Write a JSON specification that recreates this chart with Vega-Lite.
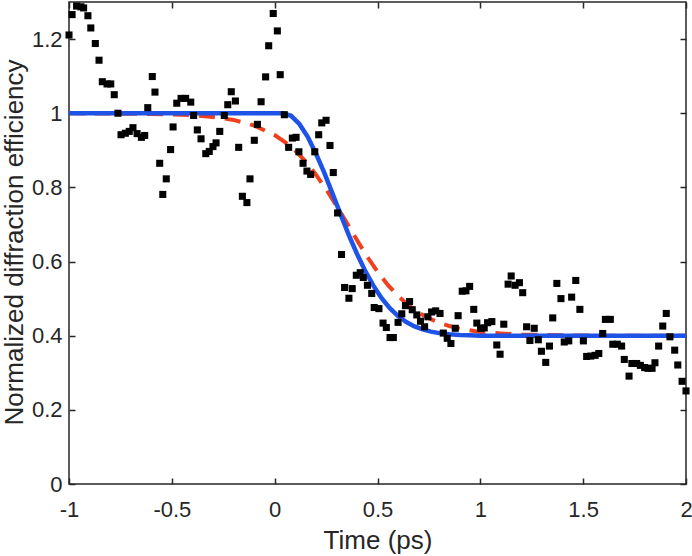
{
  "$schema": "https://vega.github.io/schema/vega-lite/v6.json",
  "width": 617,
  "height": 482,
  "autosize": {"type": "none"},
  "padding": {"left": 69, "top": 2, "right": 6, "bottom": 72},
  "background": "white",
  "config": {
    "view": {"stroke": "#262626", "strokeWidth": 1.5},
    "axis": {"grid": false, "domain": false, "tickColor": "#262626", "tickWidth": 1.5, "tickSize": -6,
             "labelFont": "Liberation Sans", "labelFontSize": 22, "labelColor": "#262626",
             "titleFont": "Liberation Sans", "titleFontSize": 26, "titleFontWeight": "normal", "titleColor": "#262626",
             "labelFlush": false, "labelOverlap": false}
  },
  "datasets": {
    "pts": [
      {"t": -1.0, "v": 1.211}, {"t": -0.985, "v": 1.266}, {"t": -0.963, "v": 1.289}, {"t": -0.942, "v": 1.287},
      {"t": -0.929, "v": 1.284}, {"t": -0.908, "v": 1.263}, {"t": -0.894, "v": 1.23}, {"t": -0.872, "v": 1.188},
      {"t": -0.854, "v": 1.143}, {"t": -0.838, "v": 1.085}, {"t": -0.815, "v": 1.079}, {"t": -0.797, "v": 1.079},
      {"t": -0.78, "v": 1.05}, {"t": -0.762, "v": 1.0}, {"t": -0.747, "v": 0.942}, {"t": -0.726, "v": 0.946},
      {"t": -0.707, "v": 0.951}, {"t": -0.689, "v": 0.961}, {"t": -0.669, "v": 0.945}, {"t": -0.648, "v": 0.935},
      {"t": -0.632, "v": 0.94}, {"t": -0.617, "v": 1.015}, {"t": -0.595, "v": 1.099}, {"t": -0.582, "v": 1.057},
      {"t": -0.559, "v": 0.865}, {"t": -0.544, "v": 0.781}, {"t": -0.527, "v": 0.823}, {"t": -0.506, "v": 0.902},
      {"t": -0.494, "v": 0.963}, {"t": -0.476, "v": 1.027}, {"t": -0.455, "v": 1.04}, {"t": -0.433, "v": 1.04},
      {"t": -0.408, "v": 1.03}, {"t": -0.394, "v": 0.994}, {"t": -0.376, "v": 0.955}, {"t": -0.358, "v": 0.931},
      {"t": -0.335, "v": 0.891}, {"t": -0.318, "v": 0.897}, {"t": -0.3, "v": 0.91}, {"t": -0.285, "v": 0.92},
      {"t": -0.267, "v": 0.951}, {"t": -0.245, "v": 0.994}, {"t": -0.228, "v": 1.023}, {"t": -0.211, "v": 1.058},
      {"t": -0.191, "v": 1.033}, {"t": -0.175, "v": 0.908}, {"t": -0.157, "v": 0.776}, {"t": -0.135, "v": 0.759},
      {"t": -0.12, "v": 0.823}, {"t": -0.099, "v": 0.927}, {"t": -0.084, "v": 0.97}, {"t": -0.066, "v": 1.031},
      {"t": -0.044, "v": 1.098}, {"t": -0.029, "v": 1.182}, {"t": -0.007, "v": 1.269}, {"t": 0.013, "v": 1.222},
      {"t": 0.027, "v": 1.104}, {"t": 0.047, "v": 0.996}, {"t": 0.068, "v": 0.908}, {"t": 0.086, "v": 0.933},
      {"t": 0.104, "v": 0.935}, {"t": 0.118, "v": 0.896}, {"t": 0.138, "v": 0.865}, {"t": 0.157, "v": 0.844},
      {"t": 0.175, "v": 0.835}, {"t": 0.195, "v": 0.896}, {"t": 0.214, "v": 0.942}, {"t": 0.229, "v": 0.974},
      {"t": 0.25, "v": 0.981}, {"t": 0.269, "v": 0.913}, {"t": 0.285, "v": 0.84}, {"t": 0.306, "v": 0.731},
      {"t": 0.325, "v": 0.619}, {"t": 0.34, "v": 0.53}, {"t": 0.361, "v": 0.501}, {"t": 0.377, "v": 0.527},
      {"t": 0.397, "v": 0.563}, {"t": 0.416, "v": 0.57}, {"t": 0.431, "v": 0.557}, {"t": 0.451, "v": 0.536},
      {"t": 0.472, "v": 0.514}, {"t": 0.484, "v": 0.476}, {"t": 0.507, "v": 0.473}, {"t": 0.527, "v": 0.434},
      {"t": 0.543, "v": 0.422}, {"t": 0.561, "v": 0.395}, {"t": 0.577, "v": 0.395}, {"t": 0.6, "v": 0.436},
      {"t": 0.618, "v": 0.459}, {"t": 0.636, "v": 0.481}, {"t": 0.656, "v": 0.492}, {"t": 0.669, "v": 0.47},
      {"t": 0.691, "v": 0.456}, {"t": 0.709, "v": 0.439}, {"t": 0.729, "v": 0.424}, {"t": 0.745, "v": 0.451},
      {"t": 0.763, "v": 0.464}, {"t": 0.783, "v": 0.467}, {"t": 0.804, "v": 0.46}, {"t": 0.82, "v": 0.407},
      {"t": 0.839, "v": 0.393}, {"t": 0.857, "v": 0.379}, {"t": 0.878, "v": 0.42}, {"t": 0.892, "v": 0.454},
      {"t": 0.912, "v": 0.52}, {"t": 0.93, "v": 0.521}, {"t": 0.948, "v": 0.533}, {"t": 0.968, "v": 0.471},
      {"t": 0.983, "v": 0.434}, {"t": 1.001, "v": 0.42}, {"t": 1.019, "v": 0.421}, {"t": 1.035, "v": 0.435},
      {"t": 1.056, "v": 0.438}, {"t": 1.08, "v": 0.375}, {"t": 1.096, "v": 0.35}, {"t": 1.114, "v": 0.431},
      {"t": 1.135, "v": 0.539}, {"t": 1.15, "v": 0.561}, {"t": 1.169, "v": 0.536}, {"t": 1.19, "v": 0.543},
      {"t": 1.206, "v": 0.516}, {"t": 1.225, "v": 0.424}, {"t": 1.241, "v": 0.387}, {"t": 1.262, "v": 0.42},
      {"t": 1.282, "v": 0.389}, {"t": 1.297, "v": 0.358}, {"t": 1.318, "v": 0.328}, {"t": 1.336, "v": 0.372},
      {"t": 1.352, "v": 0.448}, {"t": 1.372, "v": 0.541}, {"t": 1.392, "v": 0.5}, {"t": 1.408, "v": 0.383},
      {"t": 1.43, "v": 0.386}, {"t": 1.444, "v": 0.504}, {"t": 1.464, "v": 0.549}, {"t": 1.484, "v": 0.471},
      {"t": 1.501, "v": 0.386}, {"t": 1.517, "v": 0.344}, {"t": 1.537, "v": 0.345}, {"t": 1.558, "v": 0.347},
      {"t": 1.576, "v": 0.352}, {"t": 1.595, "v": 0.406}, {"t": 1.608, "v": 0.444}, {"t": 1.632, "v": 0.444},
      {"t": 1.644, "v": 0.377}, {"t": 1.666, "v": 0.377}, {"t": 1.687, "v": 0.372}, {"t": 1.7, "v": 0.336},
      {"t": 1.723, "v": 0.291}, {"t": 1.737, "v": 0.325}, {"t": 1.76, "v": 0.325}, {"t": 1.778, "v": 0.32},
      {"t": 1.799, "v": 0.314}, {"t": 1.815, "v": 0.312}, {"t": 1.835, "v": 0.312}, {"t": 1.849, "v": 0.327},
      {"t": 1.867, "v": 0.372}, {"t": 1.887, "v": 0.426}, {"t": 1.904, "v": 0.46}, {"t": 1.922, "v": 0.397},
      {"t": 1.945, "v": 0.361}, {"t": 1.96, "v": 0.321}, {"t": 1.981, "v": 0.277}, {"t": 2.0, "v": 0.251}
    ],
    "blue": [
      {"t": -1.0, "v": 1.0}, {"t": 0.0, "v": 1.0}, {"t": 0.04, "v": 1.0}, {"t": 0.08, "v": 0.993},
      {"t": 0.12, "v": 0.971}, {"t": 0.16, "v": 0.937}, {"t": 0.2, "v": 0.892}, {"t": 0.24, "v": 0.841},
      {"t": 0.28, "v": 0.785}, {"t": 0.32, "v": 0.728}, {"t": 0.36, "v": 0.672}, {"t": 0.4, "v": 0.621},
      {"t": 0.44, "v": 0.575}, {"t": 0.48, "v": 0.535}, {"t": 0.52, "v": 0.501}, {"t": 0.56, "v": 0.474},
      {"t": 0.6, "v": 0.453}, {"t": 0.64, "v": 0.437}, {"t": 0.68, "v": 0.425}, {"t": 0.72, "v": 0.417},
      {"t": 0.76, "v": 0.411}, {"t": 0.8, "v": 0.407}, {"t": 0.85, "v": 0.404}, {"t": 0.9, "v": 0.402},
      {"t": 0.95, "v": 0.401}, {"t": 1.0, "v": 0.4}, {"t": 2.0, "v": 0.4}
    ],
    "red": [
      {"t": -1.0, "v": 1.0}, {"t": -0.6, "v": 0.998}, {"t": -0.4, "v": 0.995}, {"t": -0.3, "v": 0.99},
      {"t": -0.2, "v": 0.982}, {"t": -0.1, "v": 0.967}, {"t": 0.0, "v": 0.941}, {"t": 0.05, "v": 0.922},
      {"t": 0.1, "v": 0.899}, {"t": 0.15, "v": 0.87}, {"t": 0.2, "v": 0.835}, {"t": 0.25, "v": 0.795},
      {"t": 0.3, "v": 0.751}, {"t": 0.35, "v": 0.705}, {"t": 0.4, "v": 0.658}, {"t": 0.45, "v": 0.613},
      {"t": 0.5, "v": 0.573}, {"t": 0.55, "v": 0.537}, {"t": 0.6, "v": 0.507}, {"t": 0.65, "v": 0.482},
      {"t": 0.7, "v": 0.462}, {"t": 0.75, "v": 0.447}, {"t": 0.8, "v": 0.435}, {"t": 0.85, "v": 0.426},
      {"t": 0.9, "v": 0.419}, {"t": 1.0, "v": 0.41}, {"t": 1.1, "v": 0.406}, {"t": 1.2, "v": 0.403},
      {"t": 1.4, "v": 0.401}, {"t": 1.6, "v": 0.4}, {"t": 2.0, "v": 0.4}
    ]
  },
  "layer": [
    {
      "data": {"name": "red"},
      "mark": {"type": "line", "color": "#f0401e", "strokeWidth": 4, "strokeDash": [16, 10]},
      "encoding": {
        "x": {"field": "t", "type": "quantitative", "scale": {"domain": [-1, 2], "nice": false, "zero": false},
              "axis": {"orient": "bottom", "values": [-1, -0.5, 0, 0.5, 1, 1.5, 2],
                       "labelExpr": "replace(format(datum.value, '~g'), '\u2212', '-')", "labelPadding": 21,
                       "title": "Time (ps)", "titleBaseline": "alphabetic", "titleY": 64}},
        "y": {"field": "v", "type": "quantitative", "scale": {"domain": [0, 1.3], "nice": false, "zero": false},
              "axis": {"orient": "left", "values": [0, 0.2, 0.4, 0.6, 0.8, 1, 1.2], "labelPadding": 13,
                       "labelExpr": "format(datum.value, '~g')",
                       "title": "Normalized diffraction efficiency", "titleAngle": -90,
                       "titleBaseline": "alphabetic", "titleX": -47, "titleY": 240}}
      }
    },
    {
      "data": {"name": "blue"},
      "mark": {"type": "line", "color": "#1f52e6", "strokeWidth": 4.5},
      "encoding": {
        "x": {"field": "t", "type": "quantitative", "axis": null},
        "y": {"field": "v", "type": "quantitative", "axis": null}
      }
    },
    {
      "data": {"name": "pts"},
      "mark": {"type": "square", "color": "#000000", "filled": true, "opacity": 1, "size": 50},
      "encoding": {
        "x": {"field": "t", "type": "quantitative",
              "axis": {"orient": "top", "values": [-1, -0.5, 0, 0.5, 1, 1.5, 2], "labels": false, "title": null}},
        "y": {"field": "v", "type": "quantitative",
              "axis": {"orient": "right", "values": [0, 0.2, 0.4, 0.6, 0.8, 1, 1.2], "labels": false, "title": null}}
      }
    }
  ],
  "resolve": {"axis": {"x": "independent", "y": "independent"}}
}
